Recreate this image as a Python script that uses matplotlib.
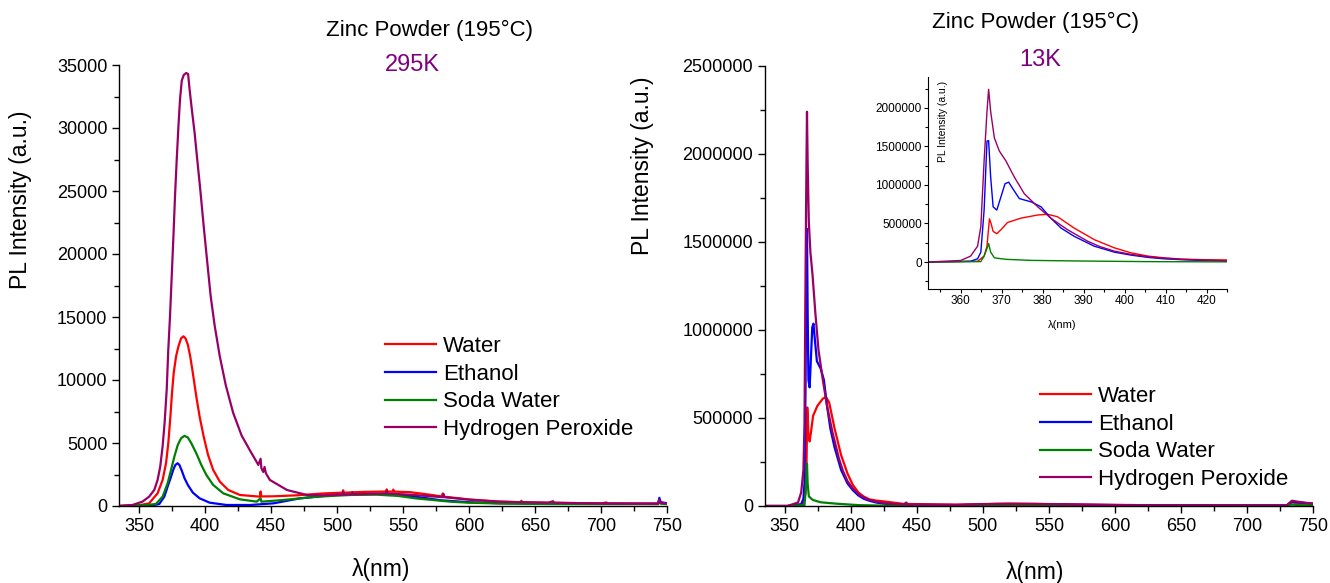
import matplotlib
matplotlib.use("Agg")
import matplotlib.pyplot as plt
from matplotlib.ticker import MultipleLocator

plt.rcParams['font.family'] = ['Liberation Sans', 'DejaVu Sans']

# ---------------- spectra at 295 K ----------------
wl_295_water = [335, 350, 357.6, 364.0, 367.8, 370.4, 372.1, 373.7, 374.9, 376.2, 378.0, 379.8,
                381.8, 383.6, 385.1, 386.9, 388.7, 390.7, 393.3, 395.8, 398.9, 402.2, 406.1, 411.1,
                417.5, 426.3, 441.5, 442, 442.6, 452, 470, 490, 504, 504.5, 505, 520, 537, 537.5,
                538, 542, 542.5, 543, 555, 570, 579, 580, 581, 600, 622, 639, 639.5, 640, 660, 680,
                700, 704, 705, 720, 743, 744, 745, 750]
int_295_water = [0, 60, 212, 1008, 2068, 3394, 4985, 7106, 8962, 10553, 11879, 12674,
                 13310, 13470, 13310, 12807, 11879, 10553, 8697, 7106, 5515, 4057, 2864, 1936,
                 1273, 875, 742, 1150, 760, 770, 850, 1000, 1060, 1250, 1060, 1120, 1150, 1320,
                 1150, 1140, 1300, 1140, 1100, 900, 760, 1000, 740, 520, 360, 300, 420, 300, 260, 230,
                 210, 280, 210, 200, 200, 420, 250, 210]

wl_295_ethanol = [335, 355, 360, 365.3, 369.1, 371.6, 374.2, 376.0, 377.5, 379.1, 380.5, 382.3,
                  384.4, 386.9, 390.7, 395.8, 403.4, 416.2, 434.0, 451.8, 472, 497.6, 520, 537,
                  555, 579, 600, 622, 660, 700, 740, 743, 744, 745, 750]
int_295_ethanol = [0, 20, 50, 159, 742, 1538, 2333, 2917, 3261, 3394, 3261, 2810,
                   2201, 1670, 1060, 610, 265, 80, 80, 212, 610, 875, 950, 950,
                   800, 450, 300, 220, 180, 170, 170, 180, 650, 300, 220]

wl_295_soda = [335, 352, 362.7, 367.8, 371.6, 374.2, 376.7, 379.3, 381.8, 384.4, 386.9, 389.5,
               393.3, 397.1, 400.9, 406.1, 413.7, 426.3, 439.1, 442, 442.6, 459.4, 484.9, 510,
               530, 546, 560, 586, 600, 622, 660, 700, 743, 744, 745, 750]
int_295_soda = [0, 40, 159, 742, 1803, 2864, 3924, 4852, 5383, 5568, 5436, 4985,
                4190, 3261, 2466, 1670, 1008, 530, 345, 620, 340, 480, 740, 875,
                900, 800, 600, 340, 260, 200, 160, 150, 150, 350, 180, 150]

wl_295_h2o2 = [335, 344.9, 352.5, 357.6, 361.5, 364.0, 366.0, 367.8, 369.3, 370.9, 372.1, 373.4,
               374.7, 376.0, 377.2, 378.5, 379.8, 381.0, 382.3, 383.8, 385.6, 387.1, 388.2, 389.9,
               392.0, 394.0, 396.3, 398.9, 401.4, 404.2, 407.3, 411.1, 415.6, 421.2, 427.6, 434.0,
               440.3, 442, 442.6, 444, 445, 446, 449, 462, 477, 490, 504, 504.5, 505, 511, 511.5,
               512, 520, 537, 537.5, 538, 555, 580, 580.5, 581, 600, 622, 640, 660, 663.5, 664,
               700, 743, 744, 745, 750]
int_295_h2o2 = [0, 80, 345, 742, 1273, 2068, 3129, 4720, 6576, 9227, 12409, 15061,
                18242, 21424, 24606, 27523, 30174, 32296, 33754, 34205, 34364, 34284, 33091, 31500,
                29644, 27523, 25136, 22220, 19568, 16652, 14265, 11879, 9600, 7400, 5600, 4400,
                3261, 3750, 3000, 2700, 3100, 2600, 2070, 1270, 875, 850, 900, 1100, 900, 920, 1100,
                920, 950, 1000, 1200, 1000, 900, 700, 950, 700, 500, 340, 300, 260, 380, 260,
                200, 180, 520, 250, 200]

# ---------------- spectra at 13 K ----------------
wl_13_water = [335, 352, 364.1, 365.7, 366.4, 367.0, 367.4, 367.9, 368.8, 369.8, 371.4, 374.6,
               378.8, 381.2, 383.6, 387.7, 392.6, 397.5, 401.5, 405.7, 409.5, 413.9, 419, 425.3,
               440, 480, 520, 560, 620, 700, 730, 734, 740, 750]
int_13_water = [0, 0, 10000, 77000, 205000, 560000, 500000, 397000, 367000, 418000, 512000, 568000,
                610000, 619000, 588000, 440000, 290000, 184000, 120000, 77000, 55000, 38000, 31000,
                26000, 12000, 8000, 14000, 10000, 5000, 4000, 4000, 20000, 15000, 10000]

wl_13_ethanol = [335, 352, 362.4, 364.1, 364.9, 365.7, 366.4, 366.8, 367.3, 367.9, 368.8, 369.8,
                 370.8, 371.7, 372.7, 374.3, 377.2, 379.6, 382, 384.5, 387.7, 392.6, 397.5, 401.5,
                 405.7, 409.5, 413.9, 419, 425.3, 440, 480, 520, 560, 620, 700, 730, 734, 740, 750]
int_13_ethanol = [0, 0, 10000, 42000, 128000, 674000, 1569000, 1575000, 1100000, 716000, 674000, 844000,
                  1015000, 1036000, 951000, 823000, 780000, 716000, 568000, 440000, 333000, 205000,
                  128000, 90000, 60000, 42000, 30000, 20000, 13000, 6000, 5000, 10000, 8000, 4000,
                  3000, 3000, 25000, 20000, 12000]

wl_13_soda = [335, 352, 364.9, 365.7, 366.4, 366.8, 367.3, 368.2, 369.8, 371.4, 377.2, 389.4,
              405.7, 425, 500, 600, 730, 734, 740, 750]
int_13_soda = [0, 0, 5000, 77000, 175000, 240000, 128000, 55000, 43000, 34000, 21000, 13000,
               5000, 2000, 1000, 500, 500, 8000, 5000, 3000]

wl_13_h2o2 = [335, 352, 360, 362.4, 364.1, 364.9, 365.7, 366.4, 366.8, 367.3, 368.2, 369.4, 371,
              373.1, 375.5, 378.8, 382, 386.1, 391, 394, 397.5, 401.5, 405.7, 409.5, 413.9, 419,
              425.3, 440, 442, 443, 480, 510, 540, 580, 620, 700, 730, 734, 738, 745, 750]
int_13_h2o2 = [0, 0, 20000, 77000, 205000, 460000, 1313000, 1952000, 2240000, 1952000, 1611000,
               1441000, 1313000, 1100000, 887000, 716000, 568000, 418000, 269000, 200000, 141000,
               100000, 69000, 50000, 35000, 25000, 17000, 8000, 20000, 8000, 6000, 12000, 12000,
               6000, 4000, 3000, 3000, 30000, 25000, 18000, 15000]

series_names = ["Water", "Ethanol", "Soda Water", "Hydrogen Peroxide"]
series_colors = ["#ff0000", "#0000ff", "#008000", "#990066"]
label_purple = "#800080"

data_295 = [(wl_295_water, int_295_water), (wl_295_ethanol, int_295_ethanol),
            (wl_295_soda, int_295_soda), (wl_295_h2o2, int_295_h2o2)]
data_13 = [(wl_13_water, int_13_water), (wl_13_ethanol, int_13_ethanol),
           (wl_13_soda, int_13_soda), (wl_13_h2o2, int_13_h2o2)]

fig = plt.figure(figsize=(13.3, 5.83), dpi=100)
W, H = 1330, 583


def px_axes(x0, y0, x1, y1):
    """Axes rectangle from pixel edges (top-left origin)."""
    return fig.add_axes([x0 / W, 1 - y1 / H, (x1 - x0) / W, (y1 - y0) / H])


def style(ax, fs, major_len, minor_len, width=1.0, pad=3.5):
    for s in ("top", "right"):
        ax.spines[s].set_visible(False)
    for s in ("left", "bottom"):
        ax.spines[s].set_linewidth(width)
    ax.tick_params(which="major", direction="out", length=major_len, width=width,
                   labelsize=fs, pad=pad)
    ax.tick_params(which="minor", direction="out", length=minor_len, width=width)
    ax.ticklabel_format(axis="y", style="plain", useOffset=False)


ax1 = px_axes(119.3, 65, 667.3, 506)
ax2 = px_axes(765, 66, 1313, 506)

for ax, data in ((ax1, data_295), (ax2, data_13)):
    for (wl, inten), name, col in zip(data, series_names, series_colors):
        ax.plot(wl, inten, color=col, lw=1.6, label=name)
    ax.set_xlim(335, 750)
    ax.xaxis.set_major_locator(MultipleLocator(50))
    ax.xaxis.set_minor_locator(MultipleLocator(25))
    style(ax, 13, 5, 3.5)

ax1.set_ylim(0, 35000)
ax1.yaxis.set_major_locator(MultipleLocator(5000))
ax1.yaxis.set_minor_locator(MultipleLocator(2500))
ax2.set_ylim(0, 2500000)
ax2.yaxis.set_major_locator(MultipleLocator(500000))
ax2.yaxis.set_minor_locator(MultipleLocator(250000))

for ax, ylc, xlc in ((ax1, (-0.181, 0.694), (0.4776, -0.145)),
                     (ax2, (-0.223, 0.773), (0.493, -0.150))):
    ax.set_ylabel("PL Intensity (a.u.)", fontsize=16.5)
    ax.yaxis.label.set_va("center")
    ax.yaxis.set_label_coords(*ylc)
    ax.set_xlabel("λ(nm)", fontsize=16.5)
    ax.xaxis.label.set_va("center")
    ax.xaxis.set_label_coords(*xlc)

# titles and temperatures
fig.text(430 / W, 1 - 30 / H, "Zinc Powder (195°C)", fontsize=16, ha="center", va="center")
fig.text(412 / W, 1 - 65 / H, "295K", fontsize=17, color=label_purple, ha="center", va="center")
fig.text(1036 / W, 1 - 22 / H, "Zinc Powder (195°C)", fontsize=16, ha="center", va="center")
fig.text(1040 / W, 1 - 60 / H, "13K", fontsize=17, color=label_purple, ha="center", va="center")

# legends
for ax, anchor in ((ax1, (385 / W, 1 - 336 / H)), (ax2, (1040 / W, 1 - 386 / H))):
    ax.legend(loc="upper left", bbox_to_anchor=anchor, bbox_transform=fig.transFigure,
              frameon=False, fontsize=16, handlelength=2.3, handletextpad=0.3,
              labelspacing=0.3, borderpad=0, borderaxespad=0)

# inset: close-up of the 13 K band edge
axi = px_axes(928, 77, 1227, 289)
for (wl, inten), col in zip(data_13, series_colors):
    axi.plot(wl, inten, color=col, lw=1.0)
axi.set_xlim(352, 425)
axi.set_ylim(-350000, 2400000)
axi.xaxis.set_major_locator(MultipleLocator(10))
axi.xaxis.set_minor_locator(MultipleLocator(5))
axi.yaxis.set_major_locator(MultipleLocator(500000))
axi.yaxis.set_minor_locator(MultipleLocator(250000))
style(axi, 8.5, 3, 2, width=0.8, pad=1.5)
axi.text(0.05, 0.98, "PL Intensity (a.u.)", transform=axi.transAxes, rotation=90,
         fontsize=7.5, ha="center", va="top")
fig.text(1062 / W, 1 - 325 / H, "λ(nm)", fontsize=8, ha="center", va="center")

fig.savefig("out.png", dpi=100)
